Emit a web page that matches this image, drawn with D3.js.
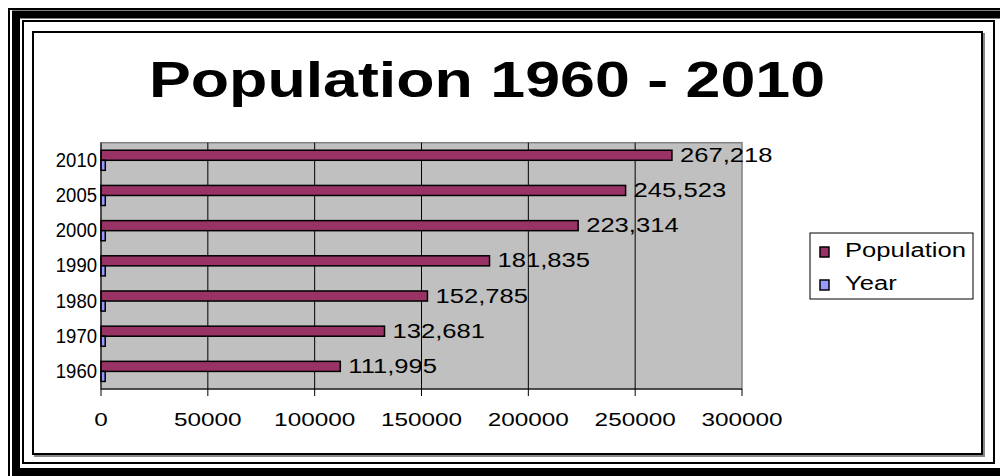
<!DOCTYPE html>
<html>
<head>
<meta charset="utf-8">
<script src="https://cdn.jsdelivr.net/npm/d3@7"></script>
<style>
  body { margin: 0; background: #fff; }
  svg { display: block; font-family: "Liberation Sans", Arial, sans-serif; }
</style>
</head>
<body>
<div id="chart"></div>
<script>
// chart data
var years = ["1960", "1970", "1980", "1990", "2000", "2005", "2010"];
var population = [111995, 132681, 152785, 181835, 223314, 245523, 267218];
var yearValues = [1960, 1970, 1980, 1990, 2000, 2005, 2010];
var seriesNames = ["Population", "Year"];
var seriesColors = ["#993366", "#9999FF"];
var xTicks = [0, 50000, 100000, 150000, 200000, 250000, 300000];

var W = 1000, H = 476;
var SX = 1.28; // the picture is stretched sideways

var svg = d3.select("#chart").append("svg")
  .attr("width", W)
  .attr("height", H);

// stretched text helper
function label(g, x, y, txt, size, anchor, weight, sx) {
  return g.append("text")
    .attr("transform", "translate(" + x + "," + y + ") scale(" + (sx || SX) + ",1)")
    .attr("text-anchor", anchor || "start")
    .attr("font-size", size)
    .attr("font-weight", weight || "normal")
    .attr("fill", "#000")
    .text(txt);
}

// outer triple border (cut at right and bottom)
svg.append("rect").attr("x", 9).attr("y", 9).attr("width", 1010).attr("height", 480)
  .attr("fill", "none").attr("stroke", "#000").attr("stroke-width", 2);
svg.append("rect").attr("x", 16).attr("y", 14.5).attr("width", 1000).attr("height", 457.5)
  .attr("fill", "none").attr("stroke", "#000").attr("stroke-width", 8);
svg.append("rect").attr("x", 23).attr("y", 21).attr("width", 971).attr("height", 442)
  .attr("fill", "none").attr("stroke", "#000").attr("stroke-width", 2);

// chart area frame with shadow
svg.append("rect").attr("x", 35).attr("y", 34).attr("width", 949).attr("height", 422)
  .attr("fill", "none").attr("stroke", "#888").attr("stroke-width", 2);
svg.append("rect").attr("x", 33).attr("y", 32).attr("width", 949).attr("height", 422)
  .attr("fill", "#fff").attr("stroke", "#000").attr("stroke-width", 2);

// title
label(svg, 487, 97, "Population 1960 - 2010", 49, "middle", "bold");

var plot = { left: 101, right: 742, top: 142.7, bottom: 389 };

var x = d3.scaleLinear().domain([0, 300000]).range([plot.left, plot.right]);
var y = d3.scaleBand().domain(years.slice().reverse()).range([plot.top, plot.bottom]);
var ySub = d3.scaleBand().domain(seriesNames).range([0, y.bandwidth()])
  .paddingInner(0).paddingOuter(0.75);

// plot background
svg.append("rect")
  .attr("x", plot.left).attr("y", plot.top)
  .attr("width", plot.right - plot.left).attr("height", plot.bottom - plot.top)
  .attr("fill", "#C0C0C0").attr("stroke", "#808080").attr("stroke-width", 1.5);

// gridlines
svg.append("g").selectAll("line")
  .data(xTicks.filter(function(d) { return d > 0 && d < 300000; }))
  .enter().append("line")
  .attr("x1", function(d) { return x(d); }).attr("x2", function(d) { return x(d); })
  .attr("y1", plot.top).attr("y2", plot.bottom)
  .attr("stroke", "#000").attr("stroke-width", 1);

// bars
var rows = years.map(function(yr, i) {
  return { year: yr, vals: [population[i], yearValues[i]] };
});
var groups = svg.append("g").selectAll("g")
  .data(rows).enter().append("g")
  .attr("transform", function(d) { return "translate(0," + y(d.year) + ")"; });

groups.selectAll("rect")
  .data(function(d) { return d.vals.map(function(v, k) { return { k: k, v: v }; }); })
  .enter().append("rect")
  .attr("x", x(0))
  .attr("y", function(d) { return ySub(seriesNames[d.k]); })
  .attr("width", function(d) { return x(d.v) - x(0); })
  .attr("height", ySub.bandwidth())
  .attr("fill", function(d) { return seriesColors[d.k]; })
  .attr("stroke", "#000").attr("stroke-width", 1.5);

// data labels on population bars
groups.each(function(d) {
  var g = d3.select(this);
  label(g, x(d.vals[0]) + 8, ySub("Population") + ySub.bandwidth() / 2 + 6.5,
    d3.format(",")(d.vals[0]), 20, "start");
});

// x axis
var xAxis = svg.append("g").attr("transform", "translate(0," + plot.bottom + ")");
xAxis.append("line").attr("x1", plot.left).attr("x2", plot.right)
  .attr("stroke", "#000").attr("stroke-width", 1);
xTicks.forEach(function(t) {
  xAxis.append("line").attr("x1", x(t)).attr("x2", x(t)).attr("y1", 0).attr("y2", 7)
    .attr("stroke", "#000").attr("stroke-width", 1);
  label(xAxis, x(t), 37, String(t), 19, "middle");
});

// y axis
var yAxis = svg.append("g");
yAxis.append("line").attr("x1", plot.left).attr("x2", plot.left)
  .attr("y1", plot.top).attr("y2", plot.bottom)
  .attr("stroke", "#000").attr("stroke-width", 1);
years.forEach(function(yr) {
  label(yAxis, plot.left - 4, y(yr) + y.bandwidth() / 2 + 6.5, yr, 19.5, "end", "normal", 0.95);
});

// legend
var lg = svg.append("g").attr("transform", "translate(810,233)");
lg.append("rect").attr("width", 163).attr("height", 66)
  .attr("fill", "#fff").attr("stroke", "#000").attr("stroke-width", 1);
seriesNames.forEach(function(n, i) {
  lg.append("rect").attr("x", 10).attr("y", 14 + i * 33).attr("width", 9).attr("height", 10)
    .attr("fill", seriesColors[i]).attr("stroke", "#000").attr("stroke-width", 1.5);
  label(lg, 35, 24 + i * 33, n, 20, "start");
});
</script>
</body>
</html>
